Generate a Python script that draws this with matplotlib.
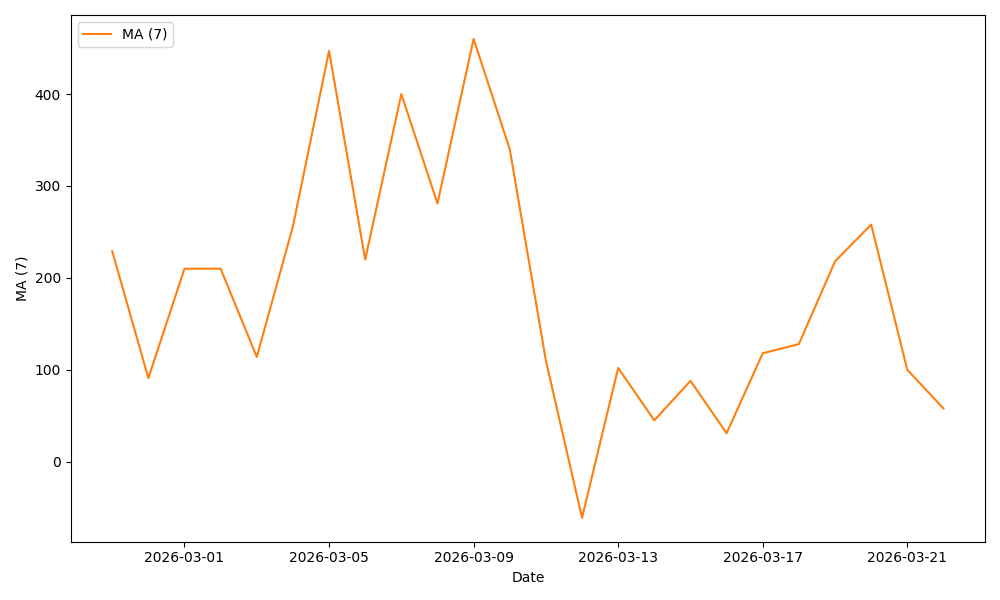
import matplotlib
matplotlib.use("Agg")
from matplotlib import pyplot as plt
import pandas as pd

dates = pd.date_range("2026-02-27", "2026-03-22", freq="D")
ma7 = [229, 91, 210, 210, 114, 256, 447, 220, 400, 281, 460, 340,
       110, -61, 102, 45, 88, 31, 118, 128, 218, 258, 100, 58]

fig, ax = plt.subplots(figsize=(10, 6), dpi=100)
ax.plot(dates, ma7, color="tab:orange", label="MA (7)")
ax.set_xlabel("Date")
ax.set_ylabel("MA (7)")
ax.set_xticks(pd.date_range("2026-03-01", "2026-03-21", freq="4D"))
ax.legend(loc="upper left")
fig.tight_layout()
fig.savefig("out.png")
